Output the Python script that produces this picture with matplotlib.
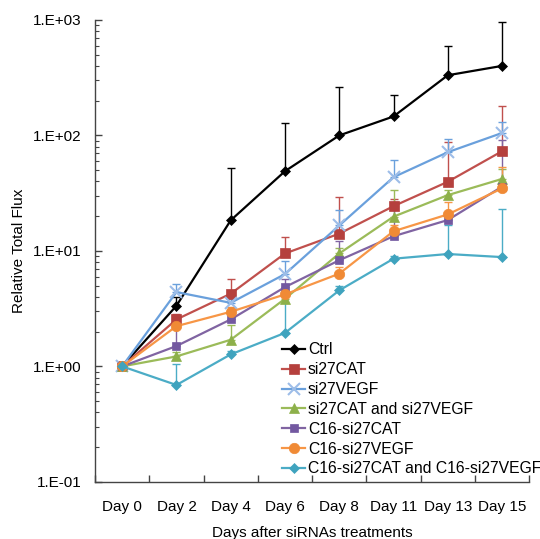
import matplotlib
matplotlib.use("Agg")
import matplotlib.pyplot as plt
import numpy as np
from matplotlib.ticker import FixedLocator, FuncFormatter, LogLocator, NullFormatter

plt.rcParams['font.family'] = ['Liberation Sans', 'DejaVu Sans']

# Данные
days = ['Day 0', 'Day 2', 'Day 4', 'Day 6', 'Day 8', 'Day 11', 'Day 13', 'Day 15']

ctrl = [1.0, 3.35, 18.4, 49, 100, 146, 332, 400]
ctrl_err = [0, 0.65, 34, 80, 165, 78, 258, 560]

si27cat = [1.0, 2.55, 4.26, 9.5, 14.1, 24.4, 39.7, 73]
si27cat_err = [0, 0.3, 1.4, 3.7, 15, 4, 48, 106]

si27vegf = [1.0, 4.4, 3.55, 6.3, 16.6, 43.5, 71.6, 105]
si27vegf_err = [0, 0.75, 0.3, 1.9, 5.8, 17.3, 22, 26]

si27cat_vegf = [1.0, 1.22, 1.7, 3.85, 9.5, 19.8, 30.4, 42]
si27cat_vegf_err = [0, 0.1, 0.58, 0.5, 1.0, 14, 3, 9]

c16_cat = [1.0, 1.5, 2.55, 4.86, 8.3, 13.4, 18.5, 36]
c16_cat_err = [0, 0.7, 0.6, 0.8, 3.9, 13, 1.5, 55]

c16_vegf = [1.0, 2.23, 2.97, 4.2, 6.35, 14.8, 20.7, 34.8]
c16_vegf_err = [0, 0.3, 0.3, 0.4, 0.9, 2, 6, 18]

c16_cat_vegf = [1.0, 0.69, 1.27, 1.95, 4.55, 8.56, 9.4, 8.84]
c16_cat_vegf_err = [0, 0.36, 0.1, 2.5, 0.4, 0.5, 7.5, 14]

series = [
    ('Ctrl', ctrl, ctrl_err, 'black', 'black', 'D', 5),
    ('si27CAT', si27cat, si27cat_err, '#C0504D', '#B5403D', 's', 7),
    ('si27VEGF', si27vegf, si27vegf_err, '#6AA0DC', '#9DBDE8', 'x', 8),
    ('si27CAT and si27VEGF', si27cat_vegf, si27cat_vegf_err, '#9BBB59', '#8DB04A', '^', 7),
    ('C16-si27CAT', c16_cat, c16_cat_err, '#8064A2', '#7358A0', 's', 5.5),
    ('C16-si27VEGF', c16_vegf, c16_vegf_err, '#F79646', '#F08A35', 'o', 7.5),
    ('C16-si27CAT and C16-si27VEGF', c16_cat_vegf, c16_cat_vegf_err, '#4BACC6', '#3FA3BE', 'D', 5),
]

fig = plt.figure(figsize=(5.4, 5.39), dpi=100)
ax = fig.add_axes([0.176, 0.106, 0.804, 0.857])

x = np.arange(len(days))
for name, vals, err, col, mcol, mk, ms in series:
    vals = np.array(vals)
    err = np.array(err)
    # только верхние планки ошибок (как в Excel)
    ax.errorbar(x, vals, yerr=[np.zeros_like(err), err], fmt='none',
                ecolor=col, elinewidth=1, capsize=3, capthick=1, zorder=2)
    ax.plot(x, vals, color=col, lw=1.6, marker=mk, ms=ms,
            markerfacecolor=mcol, markeredgecolor=mcol,
            markeredgewidth=1.5 if mk == 'x' else 0.5, label=name, zorder=3)

ax.set_yscale('log')
ax.set_ylim(0.1, 1000)
ax.set_xlim(-0.5, len(days) - 0.5)

ax.yaxis.set_major_locator(LogLocator(base=10, numticks=10))
ax.yaxis.set_minor_locator(LogLocator(base=10, subs=np.arange(2, 10), numticks=10))
ax.yaxis.set_major_formatter(FuncFormatter(lambda v, p: "1.E%+03d" % int(round(np.log10(v)))))
ax.yaxis.set_minor_formatter(NullFormatter())

# деления по границам категорий, подписи по центрам
ax.xaxis.set_major_locator(FixedLocator(np.arange(-0.5, len(days), 1.0)))
ax.xaxis.set_major_formatter(NullFormatter())
ax.xaxis.set_minor_locator(FixedLocator(x))
ax.xaxis.set_minor_formatter(FuncFormatter(lambda v, p: days[int(round(v))]))

ax.tick_params(axis='x', which='major', direction='in', length=5, width=1, color='#444444')
ax.tick_params(axis='x', which='minor', length=0, pad=13, labelsize=11)
ax.tick_params(axis='y', which='major', direction='in', length=5, width=1, color='#444444',
               labelsize=11, pad=10)
ax.tick_params(axis='y', which='minor', direction='in', length=3, width=0.8, color='#444444')

for s in ['top', 'right']:
    ax.spines[s].set_visible(False)
for s in ['left', 'bottom']:
    ax.spines[s].set_color('#444444')
    ax.spines[s].set_linewidth(1)

ax.set_ylabel('Relative Total Flux', fontsize=11, labelpad=5)
ax.set_xlabel('Days after siRNAs treatments', fontsize=11, labelpad=9)

fig.legend(loc='upper left', bbox_to_anchor=(0.522, 0.365), frameon=False,
           fontsize=11.3, handlelength=1.5, handletextpad=0.15, labelspacing=0.31,
           borderpad=0, borderaxespad=0)

fig.savefig('out.png', dpi=100)
